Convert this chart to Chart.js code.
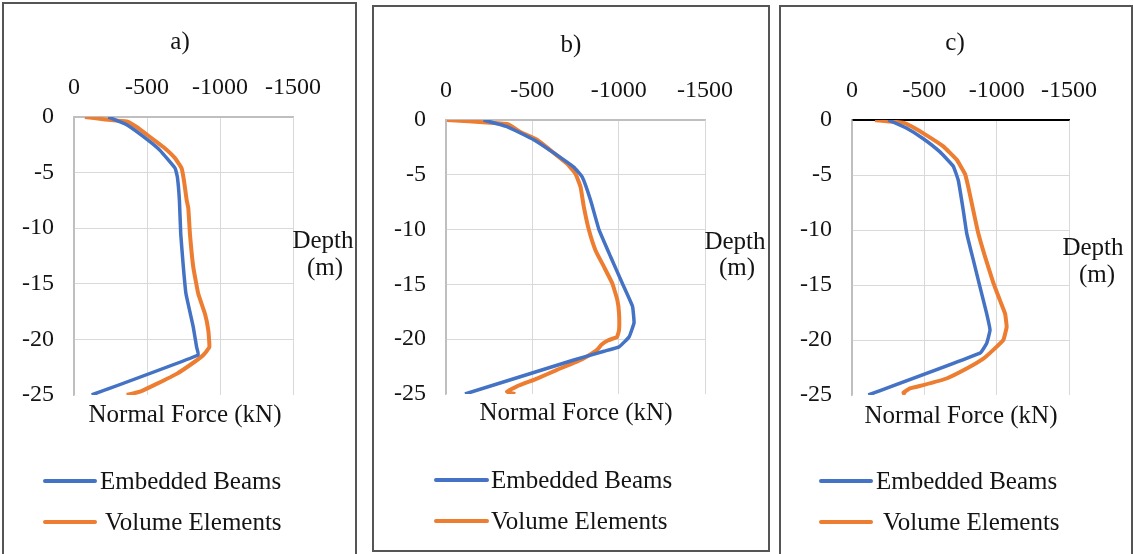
<!DOCTYPE html>
<html>
<head>
<meta charset="utf-8">
<script src="https://cdn.jsdelivr.net/npm/chart.js@4.4.1/dist/chart.umd.min.js"></script>
<style>
  html, body { margin: 0; padding: 0; background: #fff; width: 1133px; height: 554px; overflow: hidden; }
  .box { position: absolute; box-sizing: border-box; border: 2px solid #555; pointer-events: none; }
  canvas { position: absolute; }
</style>
</head>
<body>
<canvas id="chartA"></canvas>
<canvas id="chartB"></canvas>
<canvas id="chartC"></canvas>
<div class="box" style="left:2px;top:2px;width:355px;height:580px"></div>
<div class="box" style="left:372px;top:5px;width:398px;height:547px"></div>
<div class="box" style="left:779px;top:5px;width:354px;height:580px"></div>
<script>
// depth ticks (m) and force ticks (kN)
const depthTicks = [0, -5, -10, -15, -20, -25];
const forceTicks = [0, -500, -1000, -1500];
const seriesNames = ['Embedded Beams', 'Volume Elements'];

// a)
const aBeamDepth = [0, -0.7, -2.1, -3.0, -4.6, -5.4, -7.5, -10.5, -13.5, -15.9, -18.9, -20.7, -21.4, -25];
const aBeamForce = [-235, -361, -509, -589, -692, -708, -722, -731, -749, -767, -817, -840, -851, -121];
const aVolDepth = [0, -0.2, -0.4, -0.9, -1.8, -2.7, -3.7, -4.6, -5.7, -7.5, -8.2, -10.5, -13.5, -15.9, -17.7, -19.2, -20.7, -21.4, -22.1, -23.1, -24.0, -24.7, -25];
const aVolForce = [-75, -201, -361, -429, -521, -612, -692, -737, -753, -772, -783, -794, -817, -851, -897, -920, -927, -886, -817, -703, -566, -452, -361];

// b)
const bBeamDepth = [0, -0.6, -1.8, -3.0, -4.3, -5.2, -7.3, -10.0, -12.5, -14.9, -17.0, -18.5, -19.8, -20.7, -21.1, -21.9, -25];
const bBeamForce = [-217, -353, -508, -624, -740, -789, -837, -886, -954, -1021, -1080, -1089, -1060, -1002, -915, -740, -110];
const bVolDepth = [0, -0.25, -0.4, -1.1, -1.8, -3.0, -4.0, -4.9, -6.1, -7.9, -10.0, -11.9, -13.4, -14.9, -16.4, -17.6, -19.2, -19.8, -20.1, -20.5, -20.9, -21.3, -21.9, -22.8, -23.6, -24.3, -24.8, -25];
const bVolForce = [-5, -256, -362, -430, -527, -624, -702, -750, -779, -798, -827, -866, -915, -963, -992, -1002, -1002, -990, -940, -900, -880, -845, -779, -643, -527, -411, -353, -401];

// c)
const cBeamDepth = [0, -0.75, -1.7, -2.9, -4.2, -5.5, -8.2, -10.3, -12.7, -15.2, -17.6, -19.1, -20.3, -21.2, -25];
const cBeamForce = [-251, -378, -493, -608, -700, -735, -769, -793, -838, -885, -931, -954, -931, -885, -113];
const cVolDepth = [0, -0.25, -0.6, -1.4, -2.4, -3.6, -4.9, -6.1, -8.2, -10.3, -12.4, -14.8, -16.4, -17.6, -18.8, -20.0, -20.9, -21.7, -22.6, -23.5, -24.1, -24.4, -24.8, -25];
const cVolForce = [-159, -355, -413, -516, -631, -723, -781, -804, -838, -873, -919, -977, -1023, -1058, -1069, -1046, -977, -908, -793, -654, -493, -401, -355, -366];

const BLUE = '#4472C4';
const ORANGE = '#ED7D31';
const TEXT = '#141414';
const FONT = '"Liberation Serif", "Times New Roman", serif';
Chart.defaults.font.family = FONT;
Chart.defaults.color = TEXT;

// page coordinates of each panel: canvas rect, plot rect, text spots
const panels = [
  { id: 'chartA', tag: 'a)', canvas: [4, 4, 351, 550], plot: [74, 117, 293, 395],
    title: [180, 42], depth: [323, 241], unit: [325, 268], xTitle: [185, 415],
    leg: { x0: 45, x1: 95, tx: [100, 105], y: [481, 522] }, top: '#bfbfbf',
    beam: [aBeamDepth, aBeamForce], vol: [aVolDepth, aVolForce] },
  { id: 'chartB', tag: 'b)', canvas: [374, 7, 394, 543], plot: [446, 120, 705, 394],
    title: [571, 45], depth: [735, 242], unit: [737, 268], xTitle: [576, 413],
    leg: { x0: 436, x1: 487, tx: [491, 491], y: [480, 521] }, top: '#bfbfbf',
    beam: [bBeamDepth, bBeamForce], vol: [bVolDepth, bVolForce] },
  { id: 'chartC', tag: 'c)', canvas: [781, 7, 350, 547], plot: [852, 120, 1069, 395],
    title: [955, 43], depth: [1093, 248], unit: [1097, 275], xTitle: [961, 416],
    leg: { x0: 821, x1: 871, tx: [876, 883], y: [481, 522] }, top: '#000',
    beam: [cBeamDepth, cBeamForce], vol: [cVolDepth, cVolForce] }
];

const pts = (d, f) => d.map((v, i) => ({ x: f[i], y: v }));

const panelText = {
  id: 'panelText',
  afterDraw(chart, args, o) {
    const ctx = chart.ctx;
    const p = o.p;
    const ox = p.canvas[0], oy = p.canvas[1];
    ctx.save();
    ctx.fillStyle = TEXT;
    ctx.font = '25px ' + FONT;
    ctx.textAlign = 'center';
    ctx.textBaseline = 'middle';
    ctx.fillText(p.tag, p.title[0] - ox, p.title[1] - oy);
    ctx.fillText('Depth', p.depth[0] - ox, p.depth[1] - oy);
    ctx.fillText('(m)', p.unit[0] - ox, p.unit[1] - oy);
    ctx.fillText('Normal Force (kN)', p.xTitle[0] - ox, p.xTitle[1] - oy);
    // legend
    const cols = [BLUE, ORANGE];
    ctx.textAlign = 'left';
    ctx.font = '25px ' + FONT;
    seriesNames.forEach((name, i) => {
      const y = p.leg.y[i] - oy;
      ctx.strokeStyle = cols[i];
      ctx.lineWidth = 4;
      ctx.lineCap = 'round';
      ctx.beginPath();
      ctx.moveTo(p.leg.x0 - ox, y);
      ctx.lineTo(p.leg.x1 - ox, y);
      ctx.stroke();
      ctx.fillText(name, p.leg.tx[i] - ox, y + 1);
    });
    ctx.restore();
  }
};

panels.forEach(p => {
  const el = document.getElementById(p.id);
  const [cx, cy, cw, ch] = p.canvas;
  el.width = cw; el.height = ch;
  el.style.left = cx + 'px'; el.style.top = cy + 'px';
  el.style.width = cw + 'px'; el.style.height = ch + 'px';

  new Chart(el, {
    type: 'scatter',
    data: {
      datasets: [
        { label: seriesNames[0], data: pts(p.beam[0], p.beam[1]), showLine: true,
          borderColor: BLUE, backgroundColor: BLUE, borderWidth: 3.5, pointRadius: 0, tension: 0.1 },
        { label: seriesNames[1], data: pts(p.vol[0], p.vol[1]), showLine: true,
          borderColor: ORANGE, backgroundColor: ORANGE, borderWidth: 4, pointRadius: 0, tension: 0.1 }
      ]
    },
    options: {
      responsive: false,
      animation: false,
      layout: { padding: { left: 0, top: 0, right: cw - (p.plot[2] - cx), bottom: ch - (p.plot[3] - cy) } },
      plugins: { legend: { display: false }, tooltip: { enabled: false }, panelText: { p } },
      scales: {
        x: {
          type: 'linear', position: 'top', reverse: true,
          min: forceTicks[forceTicks.length - 1], max: forceTicks[0],
          afterBuildTicks: s => { s.ticks = forceTicks.map(v => ({ value: v })); },
          ticks: { padding: 15, font: { size: 24 }, color: TEXT, maxRotation: 0, callback: v => String(v) },
          grid: { drawTicks: false, lineWidth: 1, color: c => c.tick && c.tick.value === 0 ? '#bfbfbf' : '#d9d9d9' },
          border: { color: p.top, width: 1.5 },
          afterFit: s => { s.height = p.plot[1] - cy; }
        },
        y: {
          type: 'linear', min: depthTicks[depthTicks.length - 1], max: depthTicks[0],
          afterBuildTicks: s => { s.ticks = depthTicks.map(v => ({ value: v })); },
          ticks: { padding: 20, font: { size: 24 }, color: TEXT, callback: v => String(v) },
          grid: { drawTicks: false, lineWidth: 1,
            color: c => !c.tick ? '#d9d9d9' : c.tick.value === -25 ? 'rgba(0,0,0,0)' : c.tick.value === 0 ? p.top : '#d9d9d9' },
          border: { color: '#bfbfbf', width: 1.5 },
          afterFit: s => { s.width = p.plot[0] - cx; }
        }
      }
    },
    plugins: [panelText]
  });
});
</script>
</body>
</html>
